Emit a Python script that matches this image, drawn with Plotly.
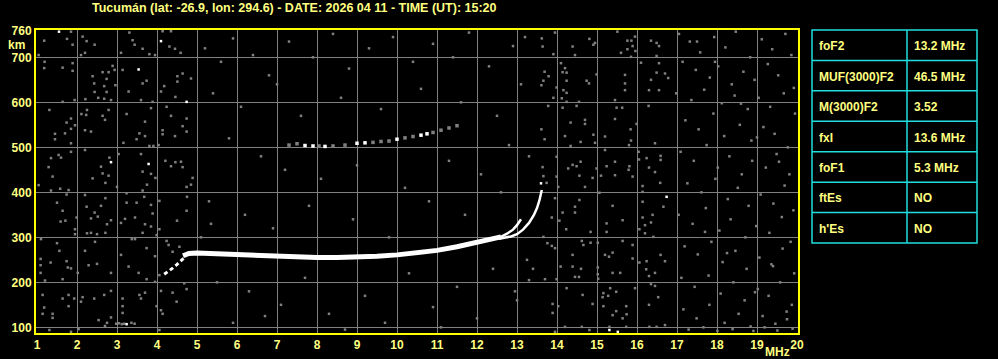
import plotly.graph_objects as go

TITLE = "Tucumán (lat: -26.9, lon: 294.6) - DATE: 2026 04 11 - TIME (UT): 15:20"
X_TICKS = list(range(1, 21))
Y_TICKS = [100, 200, 300, 400, 500, 600, 700, 760]
Y_TICK_TEXT = ["100", "200", "300", "400", "500", "600", "700", "760"]

# ---- main echo trace (virtual height, km vs frequency, MHz)
LOW_F = [4.18, 4.25, 4.32, 4.40, 4.48, 4.56, 4.64, 4.72]
LOW_H = [218, 222, 226, 232, 238, 245, 252, 258]

O_F = [4.65, 4.8, 5.0, 5.3, 5.6, 6.0, 6.5, 7.0, 7.5, 8.0, 8.5, 9.0, 9.5, 10.0,
       10.5, 11.0, 11.5, 12.0, 12.4, 12.6]
O_H = [259, 264, 265, 264, 263, 260, 258, 257, 256, 255, 255, 256, 258, 261,
       265, 271, 279, 288, 296, 301]

OB_F = [12.55, 12.75, 12.9, 13.0, 13.1]
OB_H = [299, 308, 317, 327, 340]

X_F = [12.55, 12.7, 12.85, 13.0, 13.15, 13.3, 13.42, 13.5, 13.56, 13.62]
X_H = [297, 299, 302, 307, 317, 332, 349, 365, 382, 405]

# ---- second hop trace
HOP_F = [7.3, 7.5, 7.7, 7.9, 8.05, 8.2, 8.4, 8.7, 9.0, 9.2, 9.4, 9.6, 9.8, 10.0,
         10.2, 10.4, 10.6, 10.75, 10.9, 11.1, 11.3, 11.5]
HOP_H = [505, 508, 504, 503, 503, 502, 503, 505, 509, 510, 511, 513, 514, 518,
         521, 524, 527, 530, 533, 538, 543, 548]
HOP_C = ["#808080", "#808080", "#ffffff", "#ffffff", "#808080", "#ffffff", "#808080",
         "#808080", "#ffffff", "#ffffff", "#808080", "#808080", "#808080", "#ffffff",
         "#808080", "#808080", "#ffffff", "#ffffff", "#808080", "#808080", "#808080",
         "#808080"]

# ---- scattered noise dots
NOISE_F = [
    1.18, 1.85, 1.75, 1.89, 2.14, 2.24, 2.1, 2.2, 2.44, 1.04, 3.1, 3.31, 3.39, 3.44,
    3.64, 3.81, 3.95, 4.14, 4.35, 4.31, 4.45, 4.59, 1.19, 1.18, 1.64, 1.89, 1.89,
    2.39, 2.64, 2.74, 2.79, 2.94, 2.89, 2.43, 2.68, 2.44, 2.74, 2.53, 2.68, 2.85,
    2.96, 2.21, 1.94, 1.64, 3.14, 3.29, 3.6, 3.64, 3.74, 3.89, 4.1, 4.18, 4.46, 4.51,
    4.64, 4.85, 4.51, 1.31, 1.85, 1.74, 1.85, 1.95, 1.45, 1.45, 1.7, 1.85, 2.11, 2.23,
    2.25, 2.2, 2.35, 2.64, 2.7, 2.79, 3.24, 3.16, 3.49, 3.56, 3.7, 3.7, 3.85, 3.81,
    3.91, 4.04, 4.24, 4.35, 4.14, 4.14, 4.45, 4.64, 4.74, 4.74, 1.35, 1.29, 1.39,
    1.54, 1.6, 1.85, 2.2, 2.6, 2.81, 2.79, 2.64, 2.39, 3.04, 3.6, 3.64, 3.85, 3.96,
    4.21, 4.35, 4.46, 4.6, 4.64, 4.89,
    1.04, 1.35, 1.58, 1.79, 1.74, 2.2, 2.71, 2.71, 3.0, 3.24, 3.64, 3.75, 3.68, 4.06,
    4.74, 4.85, 4.75, 1.5, 1.64, 1.59, 1.71, 1.95, 1.95, 1.99, 2.24, 2.44, 2.35, 2.6,
    2.52, 2.75, 2.85, 2.71, 2.5, 2.35, 2.25, 3.1, 3.2, 3.45, 3.24, 3.49, 3.64, 3.7,
    3.85, 3.85, 3.89, 4.06, 3.99, 4.5, 4.74, 1.1, 1.5, 1.56, 1.09, 1.34, 1.09, 1.74,
    1.77, 1.85, 1.09, 1.64, 1.2, 2.02, 2.2, 2.29, 2.5, 2.45, 2.85, 3.1, 3.29, 3.37,
    3.45, 3.54, 3.74, 3.95, 3.74, 3.95, 4.06, 4.24, 4.29, 4.56, 4.39, 4.68,
    1.14, 1.64, 1.79, 1.79, 1.18, 1.14, 1.39, 1.39, 1.93, 2.14, 2.1, 2.43, 2.68, 2.85,
    2.54, 2.75, 2.85, 3.14, 3.14, 3.14, 3.56, 3.6, 3.7, 3.99, 4.1, 4.1, 4.14, 4.39,
    4.49, 4.74, 2.98, 3.05, 3.12, 3.18, 3.36, 3.44, 1.31, 1.85, 2.04, 2.7, 4.06,
    13.62, 13.64, 13.95, 13.91, 14.39, 14.45, 14.81, 14.91, 14.95, 15.51, 15.6, 15.76,
    15.86, 15.89, 15.76, 15.95, 15.96, 15.85, 16.35, 16.49, 16.55, 16.49, 13.69, 13.66,
    13.79, 13.61, 13.91, 13.99, 14.1, 14.2, 14.24, 14.14, 14.24, 14.16, 14.24, 14.12,
    14.24, 14.55, 14.74, 14.8, 14.99, 15.45, 15.7, 15.7, 15.7, 16.1, 16.35, 16.55,
    16.49, 16.55, 16.3, 16.7, 16.78, 13.78, 14.14, 14.49, 15.49, 15.63, 16.29, 13.61,
    13.69, 14.34, 14.7, 14.7, 14.2, 14.91, 14.95, 14.59, 14.34, 15.45, 15.2, 15.84,
    15.85, 15.8, 15.99, 16.45, 13.64, 13.66, 13.99, 13.99, 14.28, 14.39, 14.49, 14.59,
    14.56, 14.89, 14.99, 15.1, 15.2, 15.24, 15.45, 15.45, 15.81, 15.79, 15.89, 16.04,
    16.05, 16.24, 16.3, 16.45, 16.59, 16.59,
    13.74, 14.03, 14.7, 15.06, 16.14, 16.14, 16.58, 13.95, 14.56, 14.45, 14.45, 14.14,
    13.87, 14.06, 14.23, 14.84, 15.39, 15.64, 15.24, 15.24, 16.14, 16.14, 16.39, 16.2,
    16.35, 16.06, 16.2, 16.41, 16.66, 13.66, 13.76, 13.87, 13.95, 14.62, 14.66, 14.84,
    14.39, 14.09, 14.39, 14.6, 14.45, 14.55, 13.7, 13.99, 15.02, 15.2, 15.3, 15.02,
    15.02, 15.03, 15.39, 15.39, 15.58, 15.64, 15.89, 15.89, 16.06, 16.24, 16.23, 16.3,
    16.45, 16.59, 16.7, 14.24, 14.64, 14.89, 15.16, 15.14, 15.16, 15.33, 15.48, 15.28,
    15.39, 15.73, 15.74, 15.64, 15.48, 15.95, 16.35, 16.45, 16.53, 16.3, 13.89, 13.89,
    14.03, 14.2, 14.62, 15.31, 15.73, 16.31, 16.49, 16.7, 13.95, 14.81,
    17.05, 17.32, 17.58, 17.93, 18.21, 18.47, 18.83, 19.12, 19.38, 19.71, 19.86, 17.14,
    17.47, 17.82, 18.03, 18.37, 18.66, 18.94, 19.27, 19.53, 19.92, 16.98, 17.36, 17.68,
    18.12, 18.44, 18.77, 19.04, 19.33, 19.67, 19.95, 17.21, 17.54, 17.91, 18.18, 18.57,
    18.86, 19.16, 19.44, 19.77, 17.09, 17.42, 17.74, 18.02, 18.31, 18.62, 18.88, 19.22,
    19.49, 19.81, 17.26, 17.61, 17.96, 18.27, 18.52, 18.79, 19.09, 19.41, 19.69, 19.91,
    17.04, 17.39, 17.72, 18.06, 18.34, 18.71, 18.98, 19.31, 19.62, 19.84, 17.19, 17.52,
    17.86, 18.14, 18.46, 18.74, 19.06, 19.36, 19.64, 19.93, 17.11, 17.44, 17.79, 18.09,
    18.41, 18.69, 19.02, 19.29, 19.58, 19.87, 17.16, 17.49, 17.81, 18.19, 18.54, 18.84,
    19.14, 19.46, 19.74, 17.29, 17.66, 18.01, 18.39, 18.91, 19.19, 19.51, 19.89,
    17.5, 17.95, 18.6, 19.0, 19.55, 17.7, 18.25, 18.95, 19.4, 19.75,
    5.2, 5.6, 5.9, 6.4, 6.8, 7.3, 7.9, 8.4, 8.8, 9.3, 9.9, 10.4, 10.9, 11.4, 11.8, 12.3,
    12.9, 13.2, 5.4, 6.1, 7.0, 7.6, 8.6, 9.6, 10.6, 11.6, 12.5, 13.1, 5.8, 6.6, 7.2,
    8.1, 9.0, 10.2, 11.3, 12.1, 12.8, 13.3, 5.3, 6.2, 6.9, 7.8, 8.9, 9.8, 10.8, 11.7,
    12.6, 5.5, 6.3, 7.1, 7.7, 8.3, 9.2, 9.7, 10.3, 10.9, 11.5, 12.0, 12.4, 13.0, 13.3,
    5.9, 6.7, 8.7, 11.1, 5.1, 5.35, 13.25, 13.4, 12.95,
]
NOISE_H = [
    737, 757, 741, 728, 746, 736, 705, 710, 728, 705, 710, 755, 738, 728,
    719, 707, 705, 758, 758, 724, 719, 710, 690, 676, 677, 687, 670,
    658, 667, 652, 667, 672, 681, 642, 636, 623, 623, 610, 608, 605,
    638, 607, 605, 601, 672, 624, 605, 642, 648, 601, 624, 636, 612, 646,
    664, 653, 658, 583, 564, 555, 541, 549, 530, 518, 531, 509, 574, 572,
    583, 538, 535, 570, 561, 583, 574, 510, 518, 531, 557, 525, 587, 503,
    503, 505, 590, 570, 538, 529, 525, 547, 564, 535, 476, 456, 435,
    483, 477, 490, 494, 457, 477, 437, 442, 431, 485, 485, 446, 441, 432,
    470, 458, 467, 468, 456, 432,
    416, 404, 408, 405, 395, 394, 421, 387, 412, 398, 404, 417, 390, 381,
    412, 417, 390, 377, 359, 335, 337, 318, 307, 344, 368, 355, 342, 370,
    346, 329, 338, 310, 307, 310, 309, 332, 341, 344, 377, 377, 310, 329,
    324, 372, 353, 318, 305, 337, 359, 296, 287, 270, 252, 244, 238, 247,
    233, 231, 221, 207, 204, 221, 270, 238, 241, 290, 221, 261, 235, 296,
    296, 221, 276, 258, 207, 201, 216, 292, 283, 279, 268, 198,
    172, 164, 172, 147, 144, 130, 130, 121, 164, 167, 157, 164, 172, 181,
    116, 110, 122, 164, 147, 132, 172, 164, 177, 147, 181, 138, 130, 177,
    157, 185, 108, 109, 107, 108, 110, 108, 94, 90, 96, 103, 94,
    742, 724, 755, 707, 724, 705, 741, 728, 732, 757, 710, 737,
    737, 725, 718, 746, 714, 701, 737, 732, 725, 703, 668, 648,
    658, 638, 610, 633, 687, 676, 666, 667, 648, 627, 621, 609,
    601, 601, 648, 642, 662, 605, 661, 642, 627, 688, 650, 687,
    666, 627, 627, 664, 654, 592, 588, 592, 588, 588, 592, 540,
    518, 555, 561, 552, 525, 528, 510, 512, 503, 563, 524, 540,
    515, 505, 552, 509, 456, 436, 479, 435, 453, 461, 458, 468,
    437, 432, 453, 437, 494, 458, 468, 438, 458, 450, 435, 490,
    473, 476, 455, 445, 481, 472,
    421, 412, 412, 399, 414, 401, 421, 387, 383, 368, 355, 355,
    344, 337, 318, 312, 370, 338, 331, 312, 379, 344, 350, 327,
    333, 318, 309, 301, 368, 301, 287, 281, 276, 292, 283, 288,
    261, 235, 235, 230, 212, 212, 207, 207, 288, 261, 257, 233,
    218, 208, 266, 221, 221, 292, 283, 253, 244, 247, 229, 214,
    221, 261, 247, 187, 172, 152, 176, 167, 147, 187, 179, 170,
    127, 147, 129, 120, 136, 187, 196, 192, 167, 150, 152, 132,
    147, 101, 101, 101, 101, 101, 101, 105, 90, 94,
    752, 735, 711, 745, 722, 757, 700, 740, 718, 752, 705, 690,
    672, 655, 680, 640, 668, 650, 685, 660, 632, 620, 605, 628,
    598, 615, 585, 610, 590, 620, 575, 560, 540, 575, 525, 550,
    515, 545, 530, 500, 490, 470, 505, 455, 480, 440, 470, 455,
    485, 440, 420, 400, 430, 385, 410, 370, 395, 375, 415, 360,
    350, 330, 365, 315, 340, 300, 325, 310, 345, 290, 280, 262,
    290, 245, 270, 230, 255, 240, 275, 220, 210, 190, 215, 175,
    200, 160, 185, 170, 200, 150, 140, 120, 150, 110, 130, 102,
    125, 108, 135, 95, 100, 92, 96, 92, 100, 93, 97,
    735, 690, 597, 522, 468, 312, 265, 178, 236, 118,
    720, 690, 742, 705, 660, 735, 700, 752, 675, 720, 745, 690, 730, 700, 755, 680,
    725, 745, 620, 590, 640, 570, 610, 585, 630, 600, 570, 640, 520, 480, 450,
    430, 460, 410, 470, 440, 505, 480, 380, 350, 320, 370, 340, 300, 380, 350,
    400, 200, 180, 150, 210, 130, 170, 110, 220, 145, 190, 120, 230, 160, 205,
    110, 125, 95, 100, 300, 330, 250, 230, 180,
]
WHITE_F = [1.55, 3.54, 4.1, 4.74, 2.85, 3.79, 3.24, 16.74, 15.52, 15.31, 13.6]
WHITE_H = [757, 673, 736, 601, 467, 463, 107, 390, 90, 94, 420]

PARAM_NAMES = ["foF2", "MUF(3000)F2", "M(3000)F2", "fxI", "foF1", "ftEs", "h'Es"]
PARAM_VALUES = ["13.2 MHz", "46.5 MHz", "3.52", "13.6 MHz", "5.3 MHz", "NO", "NO"]

# ---- layout geometry (pixels)
W, H = 998, 359
L, R, T, B = 36, 200, 30, 26
PW, PH = W - L - R, H - T - B
YEL = "#ffff80"
CYAN = "#20dede"
GRID = "#808080"
FONT = "Liberation Sans, Arial, sans-serif"


def px(x):
    return (x - L) / PW


def py(y):
    return (H - B - y) / PH


fig = go.Figure()
fig.add_trace(go.Scatter(x=NOISE_F, y=NOISE_H, mode="markers",
                         marker=dict(symbol="square", size=2.5, color=GRID, line=dict(width=0))))
fig.add_trace(go.Scatter(x=WHITE_F, y=WHITE_H, mode="markers",
                         marker=dict(symbol="square", size=2.5, color="#ffffff", line=dict(width=0))))
fig.add_trace(go.Scatter(x=HOP_F, y=HOP_H, mode="markers",
                         marker=dict(symbol="square", size=3.5, color=HOP_C, line=dict(width=0))))
fig.add_trace(go.Scatter(x=LOW_F, y=LOW_H, mode="lines",
                         line=dict(color="#ffffff", width=3, dash="4px,3px")))
fig.add_trace(go.Scatter(x=O_F, y=O_H, mode="lines", line=dict(color="#ffffff", width=5)))
fig.add_trace(go.Scatter(x=OB_F, y=OB_H, mode="lines", line=dict(color="#ffffff", width=2.5)))
fig.add_trace(go.Scatter(x=X_F, y=X_H, mode="lines", line=dict(color="#ffffff", width=2.5)))

fig.update_layout(
    width=W, height=H,
    margin=dict(l=L, r=R, t=T, b=B, pad=0, autoexpand=False),
    paper_bgcolor="#000000", plot_bgcolor="#000000",
    showlegend=False, hovermode=False,
    font=dict(family=FONT, color=YEL, size=12),
)
fig.update_xaxes(range=[0.975, 20.025], tickvals=X_TICKS, ticks="", ticklabelstandoff=0,
                 automargin=False,
                 showgrid=True, gridcolor=GRID, gridwidth=1, zeroline=False,
                 showline=True, linecolor="#ffff00", linewidth=2, mirror=True,
                 tickfont=dict(family=FONT, size=12, color=YEL, weight="bold"))
fig.update_yaxes(range=[87.4, 760.7], tickvals=Y_TICKS, ticktext=Y_TICK_TEXT, ticks="",
                 automargin=False,
                 showgrid=True, gridcolor=GRID, gridwidth=1, zeroline=False,
                 showline=True, linecolor="#ffff00", linewidth=2, mirror=True,
                 tickfont=dict(family=FONT, size=12, color=YEL, weight="bold"))

ann = []
ann.append(dict(text=TITLE, x=px(294), y=py(8), xref="paper", yref="paper",
                xanchor="center", yanchor="middle", showarrow=False,
                font=dict(family=FONT, size=12.5, color=YEL, weight="bold")))
ann.append(dict(text="km", x=px(6), y=py(45), xref="paper", yref="paper",
                xanchor="left", yanchor="middle", showarrow=False,
                font=dict(family=FONT, size=12, color=YEL, weight="bold")))
ann.append(dict(text="MHz", x=px(792), y=py(352), xref="paper", yref="paper",
                xanchor="right", yanchor="middle", showarrow=False,
                font=dict(family=FONT, size=12, color=YEL, weight="bold")))

shapes = []
tx0, tx1, tx2 = 812, 907, 977
ty0, ty1 = 30, 243
n = len(PARAM_NAMES)
rh = (ty1 - ty0) / n
shapes.append(dict(type="rect", xref="paper", yref="paper",
                   x0=px(tx0), x1=px(tx2), y0=py(ty0), y1=py(ty1),
                   line=dict(color=CYAN, width=1.5)))
shapes.append(dict(type="line", xref="paper", yref="paper",
                   x0=px(tx1), x1=px(tx1), y0=py(ty0), y1=py(ty1),
                   line=dict(color=CYAN, width=1.5)))
for i in range(1, n):
    yy = ty0 + i * rh
    shapes.append(dict(type="line", xref="paper", yref="paper",
                       x0=px(tx0), x1=px(tx2), y0=py(yy), y1=py(yy),
                       line=dict(color=CYAN, width=1.5)))
for i, (nm, val) in enumerate(zip(PARAM_NAMES, PARAM_VALUES)):
    yc = ty0 + (i + 0.5) * rh + 1
    ann.append(dict(text=nm, x=px(817), y=py(yc), xref="paper", yref="paper",
                    xanchor="left", yanchor="middle", showarrow=False,
                    font=dict(family=FONT, size=12, color=YEL, weight="bold")))
    ann.append(dict(text=val, x=px(912), y=py(yc), xref="paper", yref="paper",
                    xanchor="left", yanchor="middle", showarrow=False,
                    font=dict(family=FONT, size=12, color=YEL, weight="bold")))

fig.update_layout(annotations=ann, shapes=shapes)
fig.write_html("out.html")
